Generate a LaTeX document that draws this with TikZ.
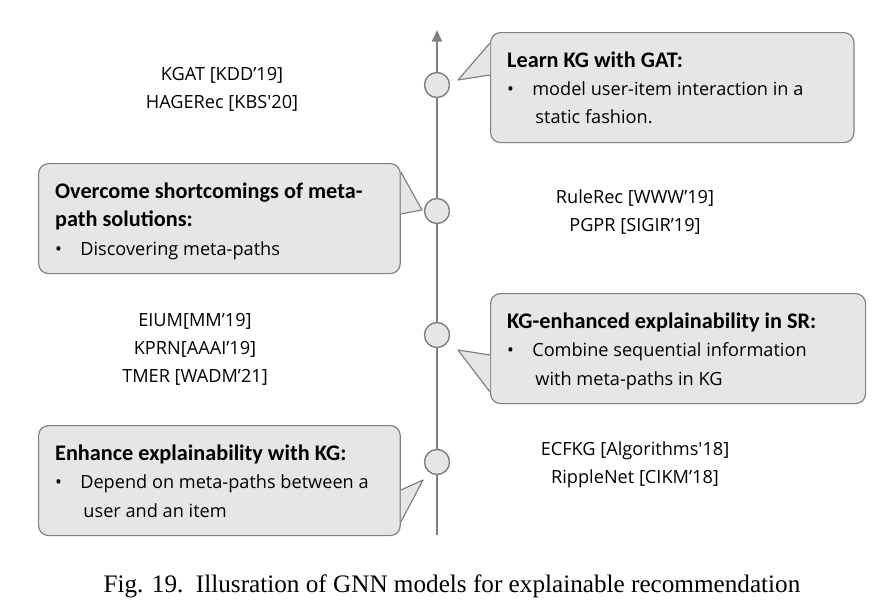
\documentclass[tikz,border=0pt]{standalone}
\usepackage{fontspec}
\setmainfont{Carlito}
\newfontfamily\bodyfont{Open Sans}
\newfontfamily\capfont{Liberation Serif}
\usetikzlibrary{arrows.meta}
\definecolor{boxgray}{RGB}{230,230,230}
\definecolor{linegray}{RGB}{128,128,128}
\begin{document}
\begin{tikzpicture}[x=0.03cm, y=-0.03cm,
        every node/.style={font=\bodyfont\fontsize{15.5}{24}\selectfont},
        note/.style={rectangle, rounded corners=0.3cm, draw=linegray, fill=boxgray,
                     line width=1pt, anchor=north west, align=left, inner sep=0pt,
                     minimum width=#1, minimum height=3.3cm},
        tip/.style={fill=boxgray, draw=linegray, line width=1pt, line join=round},
        dot/.style={circle, draw=linegray, fill=boxgray, line width=1.2pt, minimum size=0.75cm},
        refs/.style={align=center}
    ]
        \useasboundingbox (0,0) rectangle (875,609);
        % timeline
        \coordinate (bottom) at (437,535);
        \coordinate (top) at (437,30);
        \draw[linegray, line width=2pt, -{Triangle[length=0.35cm,width=0.3cm]}] (bottom) -- (top);
        \node[dot] (d1) at (437,85) {};
        \node[dot] (d2) at (437,211) {};
        \node[dot] (d3) at (437,335) {};
        \node[dot] (d4) at (437,462) {};

        % callout boxes
        \node[note=10.9cm] (b1) at (490,32) {};
        \node[note=10.85cm] (b2) at (38,163) {};
        \node[note=11.25cm] (b3) at (490,293) {};
        \node[note=10.85cm] (b4) at (38,425) {};

        % pointers
        \coordinate (t1) at (458,80);
        \coordinate (t2) at (422,210);
        \coordinate (t3) at (458,350);
        \coordinate (t4) at (423,480);
        \fill[boxgray] ([shift={(0.05,0)}]b1.west |- 0,43) -- (t1) -- ([shift={(0.05,0)}]b1.west |- 0,75) -- cycle;
        \draw[tip] (b1.west |- 0,43) -- (t1) -- (b1.west |- 0,75);
        \fill[boxgray] ([shift={(-0.05,0)}]b2.east |- 0,172) -- (t2) -- ([shift={(-0.05,0)}]b2.east |- 0,214) -- cycle;
        \draw[tip] (b2.east |- 0,172) -- (t2) -- (b2.east |- 0,214);
        \fill[boxgray] ([shift={(0.05,0)}]b3.west |- 0,355) -- (t3) -- ([shift={(0.05,0)}]b3.west |- 0,392) -- cycle;
        \draw[tip] (b3.west |- 0,355) -- (t3) -- (b3.west |- 0,392);
        \fill[boxgray] ([shift={(-0.05,0)}]b4.east |- 0,490) -- (t4) -- ([shift={(-0.05,0)}]b4.east |- 0,522) -- cycle;
        \draw[tip] (b4.east |- 0,490) -- (t4) -- (b4.east |- 0,522);

        % box texts
        \node[anchor=north west, align=left] (x1) at (503,48) {{\usefont{TU}{\rmdefault}{b}{n}\fontsize{19}{23}\selectfont Learn KG with GAT:}\\
            •\hspace{0.55cm}model user-item interaction in a\\\hspace*{0.85cm}static fashion.};
        \node[anchor=north west, align=left] (x2) at (51,179) {{\usefont{TU}{\rmdefault}{b}{n}\fontsize{19}{23}\selectfont Overcome shortcomings of meta-}\\
            {\usefont{TU}{\rmdefault}{b}{n}\fontsize{19}{23}\selectfont path solutions:}\\
            •\hspace{0.55cm}Discovering meta-paths};
        \node[anchor=north west, align=left] (x3) at (503,309) {{\usefont{TU}{\rmdefault}{b}{n}\fontsize{19}{23}\selectfont KG-enhanced explainability in SR:}\\
            •\hspace{0.55cm}Combine sequential information\\\hspace*{0.85cm}with meta-paths in KG};
        \node[anchor=north west, align=left] (x4) at (51,441) {{\usefont{TU}{\rmdefault}{b}{n}\fontsize{19}{23}\selectfont Enhance explainability with KG:}\\
            •\hspace{0.55cm}Depend on meta-paths between a\\\hspace*{0.85cm}user and an item};

        % references
        \node[refs] (r1) at (222,89) {KGAT [KDD’19]\\HAGERec [KBS'20]};
        \node[refs] (r2) at (635,212) {RuleRec [WWW’19]\\PGPR [SIGIR’19]};
        \node[refs] (r3) at (195,349) {EIUM[MM’19]\\KPRN[AAAI’19]\\TMER [WADM’21]};
        \node[refs] (r4) at (635,465) {ECFKG [Algorithms'18]\\RippleNet [CIKM’18]};

        % caption
        \node[font=\capfont\fontsize{21.5}{26}\selectfont] (cap) at (452,586)
            {Fig. 19.\ \ Illusration of GNN models for explainable recommendation};
    \end{tikzpicture}
\end{document}
